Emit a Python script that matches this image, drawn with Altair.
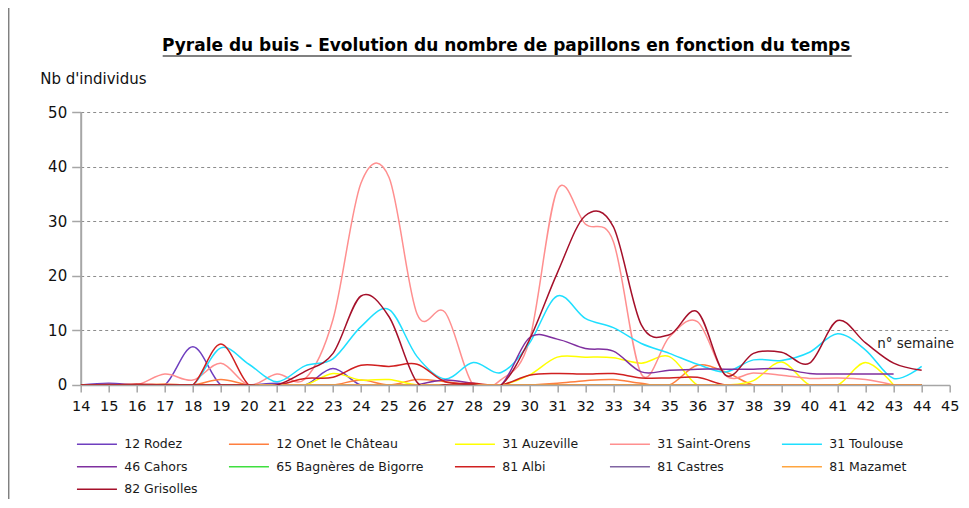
import altair as alt
import pandas as pd

weeks = list(range(14, 45))
week_ticks = list(range(14, 46))
y_ticks = [0, 10, 20, 30, 40, 50]

stations = ["12 Rodez", "12 Onet le Château", "31 Auzeville", "31 Saint-Orens", "31 Toulouse",
            "46 Cahors", "65 Bagnères de Bigorre", "81 Albi", "81 Castres", "81 Mazamet",
            "82 Grisolles"]
colors = ["#6F3FBF", "#FF7F3F", "#FFFF00", "#FF8F8F", "#1FDFFF",
          "#7F2F9F", "#3FDF3F", "#D02020", "#8064A2", "#FFA53F", "#A5102A"]
widths = [1.5, 1.5, 1.5, 1.5, 1.5, 1.5, 1.5, 1.5, 1.5, 1.5, 2.2]

rodez = [0, 0.3, 0, 0, 7, 0, 0, 0.3, 0, 3, 0, 0, 0, 0, 0, 0, 0, 0, 0, 0, 0, 0, 0, 0, 0, 0, 0, 0, 0, 0, None]
onet = [0, 0.1, 0, 0.2, 0, 1, 0, 0, 0, 0, 0.9, 0, 1, 0.6, 0, 0, 0, 0.3, 0.8, 1, 0.3, 0, 3.6, 2.4, 0, 0, 0, 0, 0, 0, 0]
auzeville = [0, 0, 0, 0, 0, 0, 0, 0, 0, 2.1, 0.9, 1.0, 0, 0, 0, 0, 1.8, 5.1, 5.1, 5.0, 4.0, 5.2, 0, 0, 0.8, 4.2, 0, 0, 4.1, 0, None]
saint_orens = [0, 0, 0, 2, 0.9, 4, 0, 2, 1.1, 12, 37, 38, 13, 13.3, 0, 1, 8, 35.7, 29.5, 26.3, 2, 8.8, 11.6, 1.8, 2.2, 1.8, 1.2, 1.3, 1.0, 0, None]
toulouse = [0, 0, 0, 0, 0, 6.8, 3.8, 0.6, 3.5, 4.8, 10.7, 13.8, 5.2, 1.1, 4.1, 2.3, 7.6, 16.3, 12.2, 10.5, 7.6, 5.8, 3.8, 2.4, 4.6, 4.5, 6.0, 9.4, 6.4, 1.2, 3.4]
cahors = [None] * 12 + [0, 0.9, 0.3, 0, 8.6, 8.4, 6.7, 6.2, 2.4, 2.7, 2.9, 2.9, 2.9, 3.0, 2.1, 2.0, 2.0, 2.0, None]
bagneres = [0] * 31
albi = [0, 0, 0.2, 0, 0, 7.5, 0, 0, 1.2, 1.4, 3.6, 3.4, 3.8, 0.6, 0.3, 0, 1.8, 2.1, 2.0, 2.1, 1.3, 1.3, 1.4, 0, 0, 0, 0, 0, 0, 0, 0]
castres = [0] * 31
mazamet = [0] * 31
grisolles = [0, 0, 0, 0, 0, 0, 0, 0, 2.5, 5.8, 16.3, 12.5, 0.5, 0, 0, 0, 8.2, 20.5, 31.0, 29.0, 11, 9.2, 13.4, 1.8, 5.8, 6.0, 4.0, 11.8, 7.7, 4.0, 2.7]

series = [rodez, onet, auzeville, saint_orens, toulouse, cahors, bagneres, albi, castres, mazamet, grisolles]

rows = []
for name, vals in zip(stations, series):
    for w, v in zip(weeks, vals):
        if v is not None:
            rows.append({"week": w, "value": v, "station": name})
df = pd.DataFrame(rows)
one = pd.DataFrame({"k": [0]})

FONT = "DejaVu Sans"

lines = alt.Chart(df).mark_line(interpolate="cardinal", tension=0, clip=True).encode(
    x=alt.X("week:Q",
            scale=alt.Scale(domain=[14, 45], nice=False, zero=False),
            axis=alt.Axis(values=week_ticks, title="n° semaine", grid=False,
                          domainColor="#A6A6A6", domainWidth=1.5,
                          tickColor="#A6A6A6", tickWidth=1.5, tickSize=7,
                          labelFont=FONT, labelFontSize=14.5, labelColor="#111111",
                          labelPadding=8, labelFlush=False, labelOverlap=False,
                          titleFont=FONT, titleFontSize=13.5, titleFontWeight="normal",
                          titleColor="#222222", titleAlign="left", titleBaseline="alphabetic",
                          titleX=796, titleY=-37)),
    y=alt.Y("value:Q",
            scale=alt.Scale(domain=[0, 50], nice=False),
            axis=alt.Axis(values=y_ticks, title="Nb d'individus", grid=True,
                          gridDash=[3, 3], gridColor="#8C8C8C", gridWidth=1,
                          domainColor="#A6A6A6", domainWidth=2,
                          tickColor="#A6A6A6", tickWidth=1.5, tickSize=9,
                          labelFont=FONT, labelFontSize=15, labelColor="#111111",
                          labelPadding=5,
                          titleFont=FONT, titleFontSize=15, titleFontWeight="normal",
                          titleColor="#111111", titleAngle=0, titleAlign="left",
                          titleBaseline="middle", titleX=-41, titleY=-34)),
    color=alt.Color("station:N",
                    scale=alt.Scale(domain=stations, range=colors),
                    legend=alt.Legend(title=None, orient="none", legendX=10, legendY=326,
                                      direction="horizontal", columns=5, padding=0,
                                      symbolType="M-4,0H4", symbolSize=100,
                                      symbolStrokeWidth=2.5,
                                      labelFont=FONT, labelFontSize=12.5,
                                      labelColor="#1a1a1a", labelOffset=21,
                                      rowPadding=9.5, columnPadding=28,
                                      labelLimit=400)),
    strokeWidth=alt.StrokeWidth("station:N",
                                scale=alt.Scale(domain=stations, range=widths),
                                legend=None),
)

underline = alt.Chart(one).mark_rule(color="black", strokeWidth=1).encode(
    x=alt.value(82), x2=alt.value(771), y=alt.value(-56))

border = alt.Chart(one).mark_rule(color="#808080", strokeWidth=1.5).encode(
    x=alt.value(-72), y=alt.value(-104), y2=alt.value(400))

chart = alt.layer(lines, underline, border).properties(
    width=869, height=273,
    title=alt.TitleParams("Pyrale du buis - Evolution du nombre de papillons en fonction du temps",
                          font=FONT, fontSize=17, fontWeight="bold", color="black",
                          anchor="middle", dx=-9, offset=-48),
    autosize=alt.AutoSizeParams(type="none"),
    padding={"left": 72.7, "top": 104, "right": 11, "bottom": 114},
).configure_view(stroke=None)

chart.save("out.html", embed_options={"renderer": "svg", "actions": False})
